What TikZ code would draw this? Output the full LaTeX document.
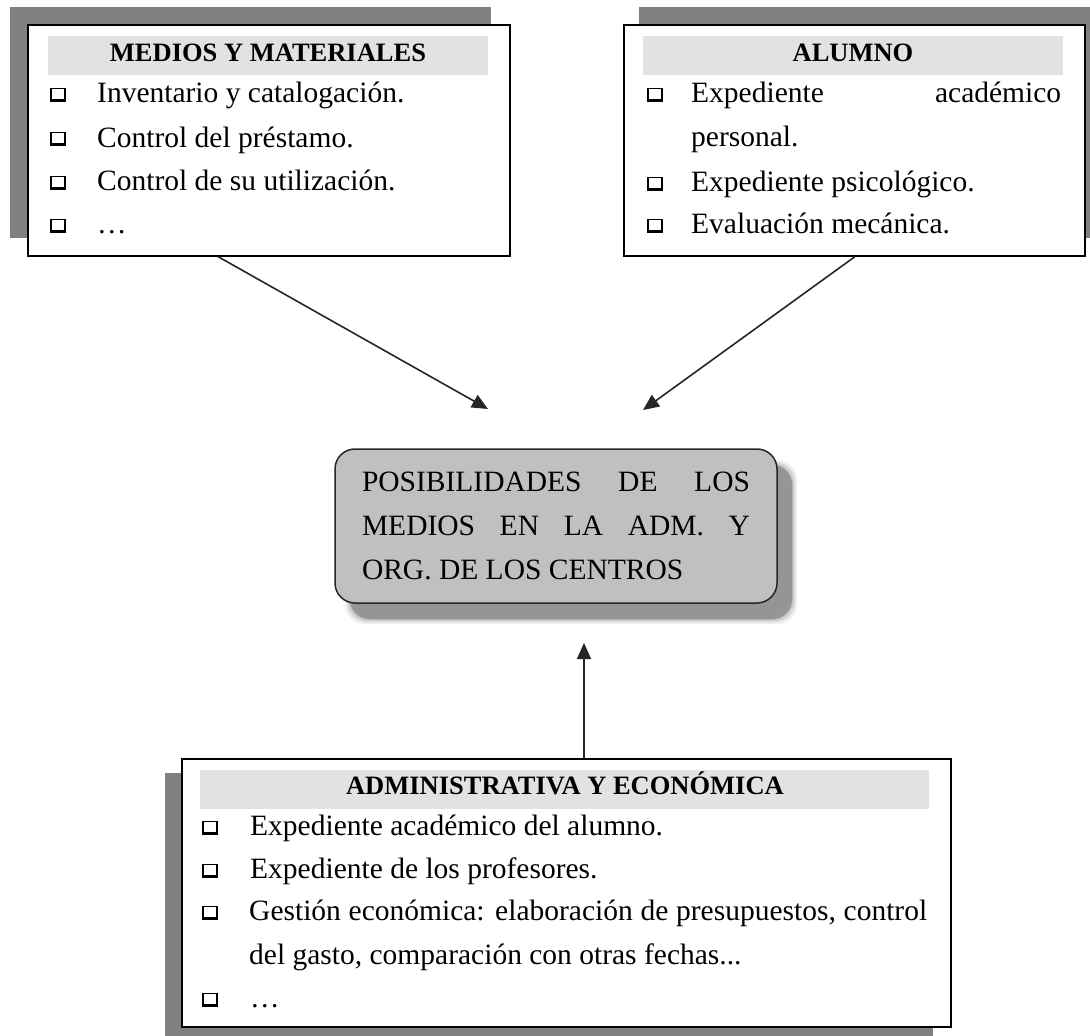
\documentclass[tikz,border=0pt]{standalone}
\usepackage{fontspec}
\setmainfont{Liberation Serif}
\usetikzlibrary{arrows.meta}
\definecolor{shadowgray}{HTML}{808080}
\definecolor{bandgray}{HTML}{E2E2E2}
\definecolor{coregray}{HTML}{C0C0C0}
\tikzset{
  mainbox/.style={draw=black, line width=1.6pt, fill=white, anchor=north west, inner sep=0pt},
  bandbox/.style={fill=bandgray, draw=none, anchor=north west, inner sep=0pt},
  hdr/.style={font=\fontsize{26.5}{30}\selectfont\bfseries, anchor=base, inner sep=0pt},
  item/.style={font=\fontsize{29.5}{44}\selectfont, anchor=base west, inner sep=0pt},
  para/.style={item, align=justify},
  bul/.style={draw=black, line width=1.3pt, fill=white, minimum width=14pt, minimum height=13pt, inner sep=0pt,
    path picture={\draw[line width=5pt] (path picture bounding box.south west) -- (path picture bounding box.south east);}},
  arr/.style={draw=black!85, line width=1.6pt, -{Triangle[length=16pt,width=14pt]}},
  corebox/.style={draw=black!85, line width=1.5pt, fill=coregray, rounded corners=20pt, inner sep=0pt,
    minimum width=442pt, minimum height=154pt, text width=388pt, align=justify,
    font=\fontsize{29.5}{44}\selectfont},
}
\begin{document}
\begin{tikzpicture}[x=1pt, y=-1pt]
\useasboundingbox (0,0) rectangle (1090,1036);

% shadows
\fill[shadowgray] (10,7) rectangle (491,238);
\fill[shadowgray] (639,7) rectangle (1090,238);
\fill[shadowgray] (165,773) rectangle (933,1036);
\foreach \d/\o in {5/0.12, 3/0.2, 1/0.3, 0/0.5}
  \fill[black!55, opacity=\o, rounded corners=20pt] (350-\d,465-\d) rectangle (792+\d,619+\d);

% main boxes
\node[mainbox, minimum width=482pt, minimum height=231pt] (medios) at (27,24) {};
\node[mainbox, minimum width=461pt, minimum height=231pt] (alumno) at (623,24) {};
\node[mainbox, minimum width=769pt, minimum height=268pt] (admin) at (181,758) {};

% header bands
\node[bandbox, minimum width=440pt, minimum height=39pt] (band1) at (48,36) {};
\node[bandbox, minimum width=420pt, minimum height=39pt] (band2) at (643,36) {};
\node[bandbox, minimum width=729pt, minimum height=39pt] (band3) at (200,770) {};
\node[hdr] (h1) at (268,61) {MEDIOS Y MATERIALES};
\node[hdr] (h2) at (853,61) {ALUMNO};
\node[hdr] (h3) at (565,794) {ADMINISTRATIVA Y ECONÓMICA};

% box 1 items
\node[bul] (b11) at (58,95) {};
\node[bul] (b12) at (58,139) {};
\node[bul] (b13) at (58,183) {};
\node[bul] (b14) at (58,226) {};
\node[item] (t11) at (97,102) {Inventario y catalogación.};
\node[item] (t12) at (97,147) {Control del préstamo.};
\node[item] (t13) at (97,190) {Control de su utilización.};
\node[item] (t14) at (97,233) {…};

% box 2 items
\node[bul] (b21) at (655,95) {};
\node[bul] (b22) at (655,184) {};
\node[bul] (b23) at (655,226) {};
\node[para, text width=370pt] (t21) at (691,102) {Expediente académico\linebreak personal.};
\node[item] (t22) at (691,191) {Expediente psicológico.};
\node[item] (t23) at (691,233) {Evaluación mecánica.};

% box 3 items
\node[bul] (b31) at (210,828) {};
\node[bul] (b32) at (210,871) {};
\node[bul] (b33) at (210,913) {};
\node[bul] (b34) at (210,1000) {};
\node[item] (t31) at (250,835) {Expediente académico del alumno.};
\node[item] (t32) at (250,878) {Expediente de los profesores.};
\node[para, text width=678pt] (t33) at (249,920) {Gestión económica: elaboración de presupuestos, control\linebreak del gasto, comparación con otras fechas...};
\node[item] (t34) at (250,1007) {…};

% central node
\node[corebox] (core) at (556,526) {POSIBILIDADES DE LOS\linebreak MEDIOS EN LA ADM. Y\linebreak ORG. DE LOS CENTROS};

% connectors
\coordinate (tipA) at (488,409);
\coordinate (tipB) at (643,410);
\coordinate (tipC) at (584,643);
\draw[arr] ([xshift=191pt]medios.south west) -- (tipA);
\draw[arr] ([xshift=232pt]alumno.south west) -- (tipB);
\draw[arr] ([xshift=403pt]admin.north west) -- (tipC);
\end{tikzpicture}
\end{document}
